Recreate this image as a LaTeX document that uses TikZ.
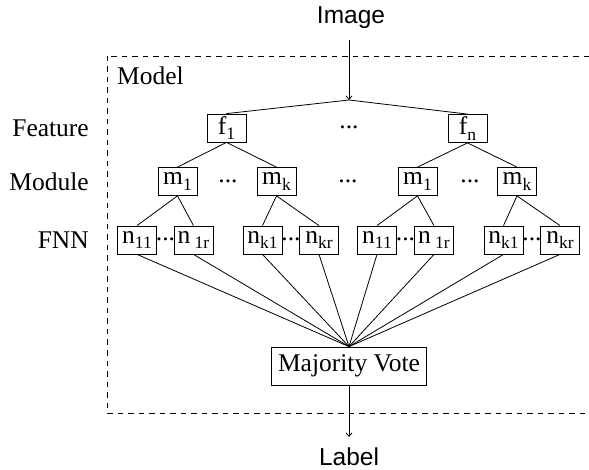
\documentclass[tikz,border=0pt]{standalone}
\usepackage{fontspec}
\setmainfont{Liberation Serif}
\setsansfont{Liberation Sans}
\usetikzlibrary{arrows.meta}
\newcommand\sbx[1]{\raisebox{-0.22em}{\fontsize{17.5}{17.5}\selectfont #1}}
\begin{document}
\begin{tikzpicture}[x=1pt,y=-1pt,
  every node/.style={font=\fontsize{25.5}{27}\selectfont},
  box/.style={draw,line width=0.8pt,inner sep=0pt,minimum width=39pt,minimum height=28pt},
  mvbox/.style={draw,line width=0.8pt,inner sep=0pt,minimum width=155pt,minimum height=38pt},
  dotsn/.style={inner sep=0pt},
  rowlabel/.style={anchor=east,inner sep=0pt},
  sanslabel/.style={font=\sffamily\fontsize{24.5}{26}\selectfont,inner sep=0pt},
  link/.style={line width=0.8pt},
  arr/.style={line width=0.8pt,-{Straight Barb[length=3.5pt,width=6pt]}},
  frame/.style={line width=0.8pt,dash pattern=on 5.5pt off 5pt}
]
\useasboundingbox (0,0) rectangle (589,470);
% frame
\draw[frame] (107,56) rectangle (600,413);
\node[anchor=west,inner sep=0pt] (model) at (117,76) {Model};
% row labels
\node[rowlabel] (lfeat) at (89,128) {Feature};
\node[rowlabel] (lmod) at (89,182) {Module};
\node[rowlabel] (lfnn) at (89,240) {FNN};
% input/output
\node[sanslabel] (img) at (351,18) {Image};
\coordinate (istart) at (349,40);
\coordinate (apex) at (349,100);
\node[sanslabel] (lab) at (349,457) {Label};
\coordinate (lend) at (349,437);
% features
\node[box] (f1) at (226.5,128) {f\sbx{1}};
\node[box] (fn) at (467.5,128.5) {f\sbx{n}};
\node[dotsn] (fd) at (349,127) {...};
% modules
\node[box] (m1a) at (177.5,181.5) {m\sbx{1}};
\node[box] (mka) at (276.5,181.5) {m\sbx{k}};
\node[box] (m1b) at (417.5,181.5) {m\sbx{1}};
\node[box] (mkb) at (517,181.5) {m\sbx{k}};
\node[dotsn] (md1) at (228,181) {...};
\node[dotsn] (md2) at (348,181) {...};
\node[dotsn] (md3) at (470,181) {...};
% FNNs
\node[box] (n1) at (137,240) {n\sbx{11}};
\node[box] (n2) at (193.5,240) {n\,\sbx{1r}};
\node[box] (n3) at (262.5,240) {n\sbx{k1}};
\node[box] (n4) at (319,240) {n\sbx{kr}};
\node[box] (n5) at (377,240) {n\sbx{11}};
\node[box] (n6) at (434,240) {n\,\sbx{1r}};
\node[box] (n7) at (503.5,240) {n\sbx{k1}};
\node[box] (n8) at (560,240) {n\sbx{kr}};
\node[dotsn] (nd1) at (165.5,239) {...};
\node[dotsn] (nd2) at (291,239) {...};
\node[dotsn] (nd3) at (405.5,239) {...};
\node[dotsn] (nd4) at (532,239) {...};
% majority vote
\node[mvbox] (mv) at (349,366) {Majority Vote};
% connectors
\draw[arr] (istart) -- (apex);
\draw[link] (f1.north) -- (apex) -- (fn.north);
\draw[link] (f1.south) -- (m1a.north);
\draw[link] (f1.south) -- (mka.north);
\draw[link] (fn.south) -- (m1b.north);
\draw[link] (fn.south) -- (mkb.north);
\draw[link] (m1a.south) -- (n1.north);
\draw[link] (m1a.south) -- (n2.north);
\draw[link] (mka.south) -- (n3.north);
\draw[link] (mka.south) -- (n4.north);
\draw[link] (m1b.south) -- (n5.north);
\draw[link] (m1b.south) -- (n6.north);
\draw[link] (mkb.south) -- (n7.north);
\draw[link] (mkb.south) -- (n8.north);
\foreach \n in {n1,n2,n3,n4,n5,n6,n7,n8}
  \draw[link] (\n.south) -- (mv.north);
\draw[arr] (mv.south) -- (lend);
\end{tikzpicture}
\end{document}
